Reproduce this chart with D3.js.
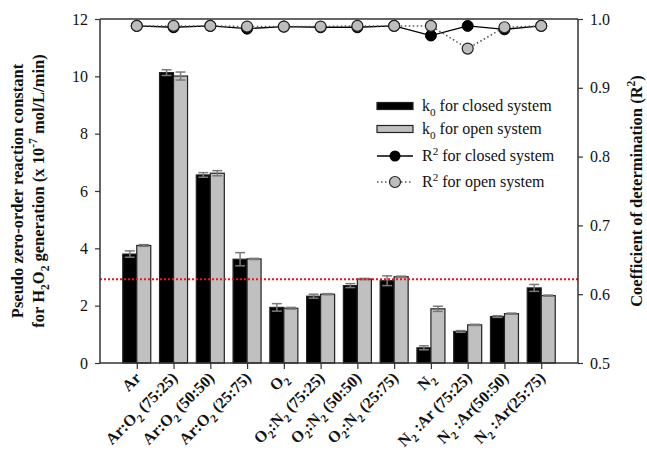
<!DOCTYPE html>
<html>
<head>
<meta charset="utf-8">
<script src="https://cdn.jsdelivr.net/npm/d3@7"></script>
<style>
  body { margin: 0; background: #fff; }
  svg text { font-family: "Liberation Serif", "Times New Roman", serif; fill: #111; }
</style>
</head>
<body>
<div id="chart"></div>
<script>
// categories (with _{sub} / ^{sup} markup)
const categories = ["Ar", "Ar:O_{2} (75:25)", "Ar:O_{2} (50:50)", "Ar:O_{2} (25:75)",
  "O_{2}", "O_{2}:N_{2} (75:25)", "O_{2}:N_{2} (50:50)", "O_{2}:N_{2} (25:75)",
  "N_{2}", "N_{2} :Ar (75:25)", "N_{2} :Ar(50:50)", "N_{2} :Ar(25:75)"];
const k0Closed = [3.80, 10.13, 6.56, 3.62, 1.94, 2.33, 2.70, 2.87, 0.53, 1.10, 1.62, 2.62];
const k0ClosedErr = [0.11, 0.10, 0.08, 0.23, 0.13, 0.07, 0.07, 0.17, 0.07, 0.03, 0.03, 0.12];
const k0Open = [4.10, 10.01, 6.62, 3.63, 1.91, 2.40, 2.93, 3.01, 1.89, 1.33, 1.72, 2.35];
const k0OpenErr = [0.03, 0.14, 0.09, 0.02, 0.03, 0.02, 0.02, 0.02, 0.09, 0.02, 0.02, 0.02];
const r2Closed = [0.990, 0.988, 0.990, 0.986, 0.989, 0.988, 0.988, 0.990, 0.976, 0.990, 0.985, 0.990];
const r2Open = [0.990, 0.990, 0.990, 0.989, 0.989, 0.989, 0.990, 0.990, 0.990, 0.957, 0.988, 0.990];
const refLine = 2.92;
const leftTicks = [0, 2, 4, 6, 8, 10, 12];
const rightTicks = [0.5, 0.6, 0.7, 0.8, 0.9, 1.0];

const W = 647, H = 452;
const margin = { top: 19, right: 69, bottom: 89, left: 100 };
const x0 = margin.left, x1 = W - margin.right, y0 = H - margin.bottom, y1 = margin.top;
const barW = 14;

// write text with _{..} subscripts and ^{..} superscripts as tspans
function richText(sel, str, size) {
  const re = /([_^])\{([^}]*)\}/g;
  let last = 0, m;
  const parts = [];
  while ((m = re.exec(str)) !== null) {
    if (m.index > last) parts.push({ t: str.slice(last, m.index), k: null });
    parts.push({ t: m[2], k: m[1] });
    last = re.lastIndex;
  }
  if (last < str.length) parts.push({ t: str.slice(last), k: null });
  let shift = 0;
  parts.forEach(p => {
    let target = p.k === "_" ? size * 0.3 : p.k === "^" ? -size * 0.4 : 0;
    const ts = sel.append("tspan").text(p.t).attr("dy", target - shift);
    if (p.k) ts.attr("font-size", size * 0.7);
    shift = target;
  });
}

const svg = d3.select("#chart").append("svg")
  .attr("width", W).attr("height", H);

const x = d3.scalePoint().domain(categories).range([x0, x1]).padding(1);
const y = d3.scaleLinear().domain([0, 12]).range([y0, y1]);
const yR = d3.scaleLinear().domain([0.5, 1.0]).range([y0, y1]);

// bars
const g = svg.append("g");
categories.forEach((c, i) => {
  const cx = x(c);
  g.append("rect").attr("x", cx - barW).attr("y", y(k0Closed[i]))
    .attr("width", barW).attr("height", y(0) - y(k0Closed[i]))
    .attr("fill", "#000").attr("stroke", "#222").attr("stroke-width", 1.2);
  g.append("rect").attr("x", cx).attr("y", y(k0Open[i]))
    .attr("width", barW).attr("height", y(0) - y(k0Open[i]))
    .attr("fill", "#c0c0c0").attr("stroke", "#222").attr("stroke-width", 1.2);
});

// error bars
function errBar(cx, v, e) {
  const eg = g.append("g").attr("stroke", "#7a7a7a").attr("stroke-width", 1.5);
  eg.append("line").attr("x1", cx).attr("x2", cx).attr("y1", y(v - e)).attr("y2", y(v + e));
  eg.append("line").attr("x1", cx - 5).attr("x2", cx + 5).attr("y1", y(v + e)).attr("y2", y(v + e));
  eg.append("line").attr("x1", cx - 5).attr("x2", cx + 5).attr("y1", y(v - e)).attr("y2", y(v - e));
}
categories.forEach((c, i) => {
  errBar(x(c) - barW / 2, k0Closed[i], k0ClosedErr[i]);
  errBar(x(c) + barW / 2, k0Open[i], k0OpenErr[i]);
});

// red dotted reference line
svg.append("line").attr("x1", x0).attr("x2", x1).attr("y1", y(refLine)).attr("y2", y(refLine))
  .attr("stroke", "#e8151b").attr("stroke-width", 2).attr("stroke-dasharray", "2,2");

// axes
const axisColor = "#333";
const left = svg.append("g").attr("transform", `translate(${x0},0)`)
  .call(d3.axisLeft(y).tickValues(leftTicks).tickFormat(d3.format("d")).tickSize(5).tickPadding(7));
const right = svg.append("g").attr("transform", `translate(${x1},0)`)
  .call(d3.axisRight(yR).tickValues(rightTicks).tickFormat(d3.format(".1f")).tickSize(5).tickPadding(7));
const bottom = svg.append("g").attr("transform", `translate(0,${y0})`)
  .call(d3.axisBottom(x).tickSize(6).tickFormat(""));
[left, right, bottom].forEach(a => {
  a.attr("font-family", null);
  a.select(".domain").attr("stroke", axisColor).attr("stroke-width", 1.5);
  a.selectAll(".tick line").attr("stroke", axisColor).attr("stroke-width", 1.2);
  a.selectAll(".tick text").attr("font-size", 16).attr("fill", "#111");
});
bottom.select(".domain").attr("d", `M${x0},0H${x1}`);
left.select(".domain").attr("d", `M0,${y0}V${y1}`);
right.select(".domain").attr("d", `M0,${y0}V${y1}`);
svg.append("line").attr("x1", x0).attr("x2", x1).attr("y1", y1).attr("y2", y1)
  .attr("stroke", axisColor).attr("stroke-width", 1.5);

// x labels, rotated
categories.forEach(c => {
  const t = svg.append("text")
    .attr("transform", `translate(${x(c) + 5},${y0 + 16}) rotate(-45)`)
    .attr("text-anchor", "end").attr("font-size", 16).attr("font-weight", "bold");
  richText(t, c, 16);
});

// R2 lines
const line = d3.line().x((d, i) => x(categories[i])).y(d => yR(d));
svg.append("path").datum(r2Closed).attr("d", line)
  .attr("fill", "none").attr("stroke", "#000").attr("stroke-width", 1.3);
svg.selectAll(".r2c").data(r2Closed).join("circle")
  .attr("cx", (d, i) => x(categories[i])).attr("cy", d => yR(d)).attr("r", 5.5)
  .attr("fill", "#000").attr("stroke", "#000");
svg.append("path").datum(r2Open).attr("d", line)
  .attr("fill", "none").attr("stroke", "#555").attr("stroke-width", 1.5).attr("stroke-dasharray", "1.5,2.5");
svg.selectAll(".r2o").data(r2Open).join("circle")
  .attr("cx", (d, i) => x(categories[i])).attr("cy", d => yR(d)).attr("r", 5.5)
  .attr("fill", "#bdbdbd").attr("stroke", "#222").attr("stroke-width", 1.2);

// legend
const lg = svg.append("g");
const lx = 377, lw = 36;
const legendRows = [
  { y: 106, label: "k_{0} for closed system", type: "bar", fill: "#000" },
  { y: 129, label: "k_{0} for open system", type: "bar", fill: "#c0c0c0" },
  { y: 156, label: "R^{2} for closed system", type: "line" },
  { y: 182, label: "R^{2} for open system", type: "dot" }
];
legendRows.forEach(r => {
  if (r.type === "bar") {
    lg.append("rect").attr("x", lx).attr("y", r.y - 3.5).attr("width", lw).attr("height", 7)
      .attr("fill", r.fill).attr("stroke", "#222").attr("stroke-width", 1.2);
  } else if (r.type === "line") {
    lg.append("line").attr("x1", lx).attr("x2", lx + lw).attr("y1", r.y).attr("y2", r.y)
      .attr("stroke", "#000").attr("stroke-width", 1.3);
    lg.append("circle").attr("cx", lx + lw / 2).attr("cy", r.y).attr("r", 5.5).attr("fill", "#000");
  } else {
    lg.append("line").attr("x1", lx).attr("x2", lx + lw).attr("y1", r.y).attr("y2", r.y)
      .attr("stroke", "#555").attr("stroke-width", 1.5).attr("stroke-dasharray", "1.5,2.5");
    lg.append("circle").attr("cx", lx + lw / 2).attr("cy", r.y).attr("r", 5.5)
      .attr("fill", "#bdbdbd").attr("stroke", "#222").attr("stroke-width", 1.2);
  }
  const t = lg.append("text").attr("x", lx + lw + 9).attr("y", r.y + 5).attr("font-size", 16);
  richText(t, r.label, 16);
});

// axis titles
const t1 = svg.append("text").attr("transform", `translate(23,${(y0 + y1) / 2}) rotate(-90)`)
  .attr("text-anchor", "middle").attr("font-size", 16.5).attr("font-weight", "bold");
richText(t1, "Pseudo zero-order reaction constant", 16.5);
const t2 = svg.append("text").attr("transform", `translate(44,${(y0 + y1) / 2}) rotate(-90)`)
  .attr("text-anchor", "middle").attr("font-size", 16.5).attr("font-weight", "bold");
richText(t2, "for H_{2}O_{2} generation (x 10^{-7} mol/L/min)", 16.5);
const t3 = svg.append("text").attr("transform", `translate(642,${(y0 + y1) / 2}) rotate(-90)`)
  .attr("text-anchor", "middle").attr("font-size", 16.5).attr("font-weight", "bold");
richText(t3, "Coefficient of determination (R^{2})", 16.5);
</script>
</body>
</html>
